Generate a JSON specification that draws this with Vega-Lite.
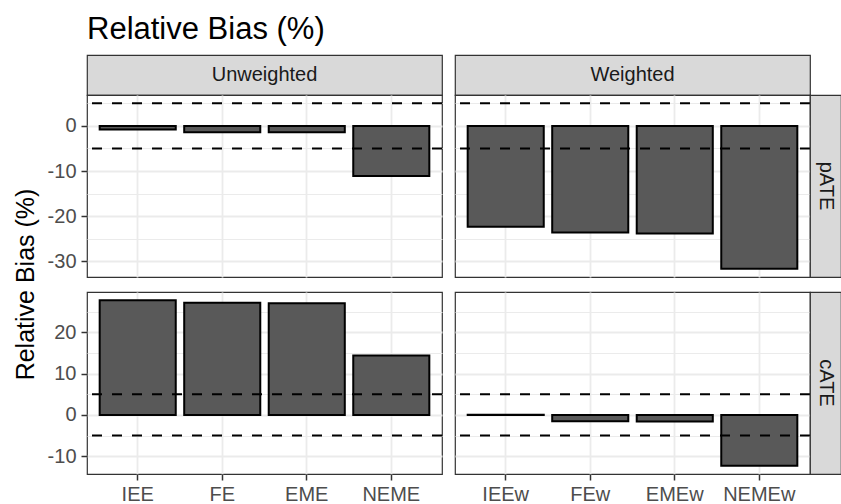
{
  "$schema": "https://vega.github.io/schema/vega-lite/v6.json",
  "background": "white",
  "padding": {"left": 12, "top": 13, "right": 0, "bottom": 0},
  "datasets": {
    "bars": [
      {"ate": "pATE", "wt": "Unweighted", "method": "IEE", "bias": -0.8},
      {"ate": "pATE", "wt": "Unweighted", "method": "FE", "bias": -1.4},
      {"ate": "pATE", "wt": "Unweighted", "method": "EME", "bias": -1.4},
      {"ate": "pATE", "wt": "Unweighted", "method": "NEME", "bias": -11.1},
      {"ate": "pATE", "wt": "Weighted", "method": "IEEw", "bias": -22.3},
      {"ate": "pATE", "wt": "Weighted", "method": "FEw", "bias": -23.6},
      {"ate": "pATE", "wt": "Weighted", "method": "EMEw", "bias": -23.8},
      {"ate": "pATE", "wt": "Weighted", "method": "NEMEw", "bias": -31.6},
      {"ate": "cATE", "wt": "Unweighted", "method": "IEE", "bias": 27.8},
      {"ate": "cATE", "wt": "Unweighted", "method": "FE", "bias": 27.2},
      {"ate": "cATE", "wt": "Unweighted", "method": "EME", "bias": 27.1},
      {"ate": "cATE", "wt": "Unweighted", "method": "NEME", "bias": 14.4},
      {"ate": "cATE", "wt": "Weighted", "method": "IEEw", "bias": 0.05},
      {"ate": "cATE", "wt": "Weighted", "method": "FEw", "bias": -1.5},
      {"ate": "cATE", "wt": "Weighted", "method": "EMEw", "bias": -1.6},
      {"ate": "cATE", "wt": "Weighted", "method": "NEMEw", "bias": -12.3}
    ],
    "hl": [{"ref": 5}, {"ref": -5}],
    "strips": [{"strip": "Unweighted"}, {"strip": "Weighted"}, {"strip": "pATE"}, {"strip": "cATE"}]
  },
  "config": {
    "font": "Liberation Sans",
    "view": {"stroke": "#333333", "strokeWidth": 1.2},
    "axis": {
      "labelFont": "Liberation Sans", "labelFontSize": 20, "labelColor": "#4D4D4D",
      "tickColor": "#333333", "tickSize": 6, "tickWidth": 1.5, "domain": false,
      "gridColor": "#EBEBEB", "gridWidth": 1.8, "labelPadding": 5,
      "titleFont": "Liberation Sans", "titleFontWeight": "normal", "titleColor": "#000000", "labelOverlap": false
    }
  },
  "concat": [
    {
      "width": 355, "height": 40,
      "title": {"text": "Relative Bias (%)", "anchor": "start", "frame": "group", "fontSize": 31, "fontWeight": "normal", "font": "Liberation Sans", "color": "#000000", "offset": -15, "baseline": "alphabetic"},
      "data": {"name": "strips"},
      "transform": [{"filter": "datum.strip === 'Unweighted'"}],
      "mark": {"type": "text", "fontSize": 20, "color": "#1A1A1A", "baseline": "middle", "align": "center"},
      "encoding": {"text": {"field": "strip"}},
      "view": {"fill": "#D9D9D9", "stroke": "#333333", "strokeWidth": 1.2}
    },
    {"width": 13, "height": 1, "data": {"values": [{}]}, "mark": {"type": "text", "text": ""}, "encoding": {}, "view": {"stroke": null, "fill": null}},
    {
      "width": 355, "height": 40,
      "data": {"name": "strips"},
      "transform": [{"filter": "datum.strip === 'Weighted'"}],
      "mark": {"type": "text", "fontSize": 20, "color": "#1A1A1A", "baseline": "middle", "align": "center"},
      "encoding": {"text": {"field": "strip"}},
      "view": {"fill": "#D9D9D9", "stroke": "#333333", "strokeWidth": 1.2}
    },
    {"width": 1, "height": 1, "data": {"values": [{}]}, "mark": {"type": "text", "text": ""}, "encoding": {}, "view": {"stroke": null, "fill": null}},

    {
      "width": 355, "height": 182,
      "layer": [
        {
          "data": {"name": "bars"},
          "transform": [{"filter": "datum.ate === 'pATE' && datum.wt === 'Unweighted'"}],
          "mark": {"type": "bar", "fill": "#595959", "stroke": "#000000", "strokeWidth": 2},
          "encoding": {
            "x": {"field": "method", "type": "nominal", "sort": ["IEE", "FE", "EME", "NEME"], "scale": {"paddingInner": 0.1, "paddingOuter": 0.15}, "axis": {"labels": false, "ticks": false, "grid": true, "title": null}},
            "y": {"field": "bias", "type": "quantitative", "scale": {"domain": [-33.43, 6.83], "nice": false, "zero": false},
              "axis": {"tickCount": 10, "grid": true,
                "gridWidth": {"condition": {"test": "datum.value % 10 !== 0", "value": 1}, "value": 1.8},
                "tickOpacity": {"condition": {"test": "datum.value % 10 !== 0", "value": 0}, "value": 1},
                "labelExpr": "datum.value % 10 === 0 ? toString(datum.value) : ''",
                "title": "Relative Bias (%)", "titleFontSize": 25, "titleAngle": 270, "titleAlign": "center", "titleBaseline": "middle", "titleX": -62, "titleY": 189}},
            "y2": {"datum": 0}
          }
        },
        {
          "data": {"name": "hl"},
          "mark": {"type": "rule", "color": "#000000", "strokeWidth": 2, "strokeDash": [10, 10]},
          "encoding": {"y": {"field": "ref", "type": "quantitative"}}
        }
      ]
    },
    {"width": 13, "height": 1, "data": {"values": [{}]}, "mark": {"type": "text", "text": ""}, "encoding": {}, "view": {"stroke": null, "fill": null}},
    {
      "width": 355, "height": 182,
      "layer": [
        {
          "data": {"name": "bars"},
          "transform": [{"filter": "datum.ate === 'pATE' && datum.wt === 'Weighted'"}],
          "mark": {"type": "bar", "fill": "#595959", "stroke": "#000000", "strokeWidth": 2},
          "encoding": {
            "x": {"field": "method", "type": "nominal", "sort": ["IEEw", "FEw", "EMEw", "NEMEw"], "scale": {"paddingInner": 0.1, "paddingOuter": 0.15}, "axis": {"labels": false, "ticks": false, "grid": true, "title": null}},
            "y": {"field": "bias", "type": "quantitative", "scale": {"domain": [-33.43, 6.83], "nice": false, "zero": false},
              "axis": {"tickCount": 10, "grid": true, "labels": false, "ticks": false, "title": null,
                "gridWidth": {"condition": {"test": "datum.value % 10 !== 0", "value": 1}, "value": 1.8}}},
            "y2": {"datum": 0}
          }
        },
        {
          "data": {"name": "hl"},
          "mark": {"type": "rule", "color": "#000000", "strokeWidth": 2, "strokeDash": [10, 10]},
          "encoding": {"y": {"field": "ref", "type": "quantitative"}}
        }
      ]
    },
    {
      "width": 31, "height": 182,
      "data": {"name": "strips"},
      "transform": [{"filter": "datum.strip === 'pATE'"}],
      "mark": {"type": "text", "fontSize": 20, "color": "#1A1A1A", "baseline": "middle", "align": "center", "angle": 90},
      "encoding": {"text": {"field": "strip"}},
      "view": {"fill": "#D9D9D9", "stroke": "#333333", "strokeWidth": 1.2}
    },

    {"width": 1, "height": 15, "data": {"values": [{}]}, "mark": {"type": "text", "text": ""}, "encoding": {}, "view": {"stroke": null, "fill": null}},
    {"width": 1, "height": 15, "data": {"values": [{}]}, "mark": {"type": "text", "text": ""}, "encoding": {}, "view": {"stroke": null, "fill": null}},
    {"width": 1, "height": 15, "data": {"values": [{}]}, "mark": {"type": "text", "text": ""}, "encoding": {}, "view": {"stroke": null, "fill": null}},
    {"width": 1, "height": 15, "data": {"values": [{}]}, "mark": {"type": "text", "text": ""}, "encoding": {}, "view": {"stroke": null, "fill": null}},

    {
      "width": 355, "height": 182,
      "layer": [
        {
          "data": {"name": "bars"},
          "transform": [{"filter": "datum.ate === 'cATE' && datum.wt === 'Unweighted'"}],
          "mark": {"type": "bar", "fill": "#595959", "stroke": "#000000", "strokeWidth": 2},
          "encoding": {
            "x": {"field": "method", "type": "nominal", "sort": ["IEE", "FE", "EME", "NEME"], "scale": {"paddingInner": 0.1, "paddingOuter": 0.15}, "axis": {"labelAngle": 0, "labelPadding": 4, "grid": true, "title": null}},
            "y": {"field": "bias", "type": "quantitative", "scale": {"domain": [-14.3, 29.8], "nice": false, "zero": false},
              "axis": {"tickCount": 10, "grid": true,
                "gridWidth": {"condition": {"test": "datum.value % 10 !== 0", "value": 1}, "value": 1.8},
                "tickOpacity": {"condition": {"test": "datum.value % 10 !== 0", "value": 0}, "value": 1},
                "labelExpr": "datum.value % 10 === 0 ? toString(datum.value) : ''",
                "title": null}},
            "y2": {"datum": 0}
          }
        },
        {
          "data": {"name": "hl"},
          "mark": {"type": "rule", "color": "#000000", "strokeWidth": 2, "strokeDash": [10, 10]},
          "encoding": {"y": {"field": "ref", "type": "quantitative"}}
        }
      ]
    },
    {"width": 13, "height": 1, "data": {"values": [{}]}, "mark": {"type": "text", "text": ""}, "encoding": {}, "view": {"stroke": null, "fill": null}},
    {
      "width": 355, "height": 182,
      "layer": [
        {
          "data": {"name": "bars"},
          "transform": [{"filter": "datum.ate === 'cATE' && datum.wt === 'Weighted'"}],
          "mark": {"type": "bar", "fill": "#595959", "stroke": "#000000", "strokeWidth": 2},
          "encoding": {
            "x": {"field": "method", "type": "nominal", "sort": ["IEEw", "FEw", "EMEw", "NEMEw"], "scale": {"paddingInner": 0.1, "paddingOuter": 0.15}, "axis": {"labelAngle": 0, "labelPadding": 4, "grid": true, "title": null}},
            "y": {"field": "bias", "type": "quantitative", "scale": {"domain": [-14.3, 29.8], "nice": false, "zero": false},
              "axis": {"tickCount": 10, "grid": true, "labels": false, "ticks": false, "title": null,
                "gridWidth": {"condition": {"test": "datum.value % 10 !== 0", "value": 1}, "value": 1.8}}},
            "y2": {"datum": 0}
          }
        },
        {
          "data": {"name": "hl"},
          "mark": {"type": "rule", "color": "#000000", "strokeWidth": 2, "strokeDash": [10, 10]},
          "encoding": {"y": {"field": "ref", "type": "quantitative"}}
        }
      ]
    },
    {
      "width": 31, "height": 182,
      "data": {"name": "strips"},
      "transform": [{"filter": "datum.strip === 'cATE'"}],
      "mark": {"type": "text", "fontSize": 20, "color": "#1A1A1A", "baseline": "middle", "align": "center", "angle": 90},
      "encoding": {"text": {"field": "strip"}},
      "view": {"fill": "#D9D9D9", "stroke": "#333333", "strokeWidth": 1.2}
    }
  ],
  "columns": 4,
  "spacing": {"row": 0, "column": 0},
  "bounds": "flush",
  "align": "each"
}
